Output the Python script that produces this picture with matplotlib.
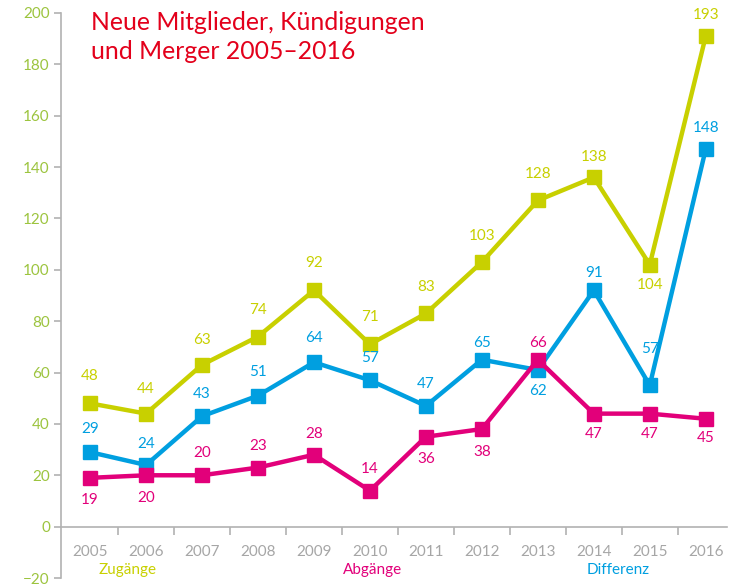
import numpy as np
import matplotlib
matplotlib.use('Agg')
import matplotlib.pyplot as plt

plt.rcParams['font.family'] = ['Lato', 'DejaVu Sans']

years = ['2005', '2006', '2007', '2008', '2009', '2010', '2011', '2012',
         '2013', '2014', '2015', '2016']

# values as drawn in the chart
zugaenge = [48, 44, 63, 74, 92, 71, 83, 103, 127, 136, 102, 191]
abgaenge = [19, 20, 20, 23, 28, 14, 35, 38, 65, 44, 44, 42]
differenz = [29, 24, 43, 51, 64, 57, 47, 65, 61, 92, 55, 147]

# values as printed next to the points
zugaenge_txt = ['48', '44', '63', '74', '92', '71', '83', '103', '128', '138', '104', '193']
abgaenge_txt = ['19', '20', '20', '23', '28', '14', '36', '38', '66', '47', '47', '45']
differenz_txt = ['29', '24', '43', '51', '64', '57', '47', '65', '62', '91', '57', '148']

series_names = ['Zugänge', 'Abgänge', 'Differenz']

# label offsets in pixels (positive = up)
zug_dy = [27, 25, 25, 27, 27, 27, 26, 26, 26, 20, -20, 21]
abg_dy = [-22, -23, 22, 22, 21, 22, -22, -23, 17, -20, -20, -19]
dif_dy = [23, 21, 22, 24, 24, 22, 22, 17, -21, 17, 36, 21]

c_zug = '#C8D000'
c_abg = '#E2007A'
c_dif = '#009FE0'
c_tick = '#9CC43E'
c_gray = '#B2B2B2'
c_year = '#A6A6A6'
c_title = '#E3001B'

fig = plt.figure(figsize=(7.4, 5.86), dpi=100)
ax = fig.add_axes([61 / 740, 1 - 578 / 586, 666 / 740, 565 / 586])

x = np.arange(len(years))
px = 72 / 100.0  # pixel -> point

for vals, txts, dys, col in [(zugaenge, zugaenge_txt, zug_dy, c_zug),
                             (differenz, differenz_txt, dif_dy, c_dif),
                             (abgaenge, abgaenge_txt, abg_dy, c_abg)]:
    ax.plot(x, vals, color=col, lw=3.2, marker='s', ms=10.5, zorder=3,
            solid_joinstyle='miter')
    for xi, v, t, dy in zip(x, vals, txts, dys):
        ax.annotate(t, (xi, v), xytext=(0, dy * px), textcoords='offset points',
                    ha='center', va='center', color=col, fontsize=11)

ax.set_xlim(-0.52, 11.38)
ax.set_ylim(-20, 200)

for s in ['top', 'right']:
    ax.spines[s].set_visible(False)
ax.spines['bottom'].set_position(('data', 0))
ax.spines['bottom'].set_color(c_gray)
ax.spines['left'].set_color(c_gray)
ax.spines['bottom'].set_linewidth(1.2)
ax.spines['left'].set_linewidth(1.2)

ax.set_yticks(np.arange(-20, 201, 20))
ax.tick_params(axis='y', colors=c_gray, labelcolor=c_tick, labelsize=11,
               length=5, width=1.2, pad=3)

ax.set_xticks(x)
ax.set_xticklabels(years)
ax.set_xticks(np.arange(0.5, 11, 1), minor=True)
ax.tick_params(axis='x', which='major', length=0, labelcolor=c_year,
               labelsize=11, pad=13)
ax.tick_params(axis='x', which='minor', length=6, width=1.2, colors=c_gray)

# series names below the axis
for name, xpos, col in zip(series_names, [0.66, 5.04, 9.43], [c_zug, c_abg, c_dif]):
    ax.text(xpos, -16.9, name, color=col, fontsize=11, ha='center', va='center',
            clip_on=False)

fig.text(91 / 740, 1 - 11 / 586, 'Neue Mitglieder, Kündigungen\nund Merger 2005–2016',
         color=c_title, fontsize=17.8, ha='left', va='top', linespacing=1.3)

fig.savefig('out.png', dpi=100)
